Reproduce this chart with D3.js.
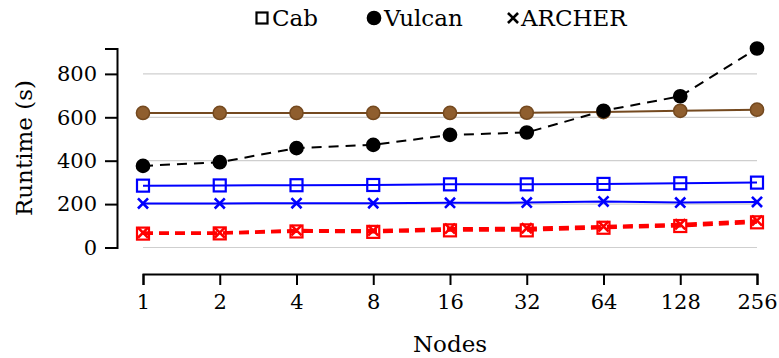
<!DOCTYPE html>
<html>
<head>
<meta charset="utf-8">
<script src="https://cdn.jsdelivr.net/npm/d3@7"></script>
<style>
  html, body { margin: 0; padding: 0; background: #fff; }
  svg { display: block; }
  text { font-family: "DejaVu Serif", "Liberation Serif", serif; fill: #000; }
</style>
</head>
<body>
<svg id="chart" width="779" height="358"></svg>
<script>
// Node counts on the x axis
const nodes = [1, 2, 4, 8, 16, 32, 64, 128, 256];
const yTicks = [0, 200, 400, 600, 800];

// Runtime (s) per configuration
const cabBlue      = [285, 286, 287, 288, 291, 291, 293, 296, 299];
const archerBlue   = [203, 203, 204, 204, 206, 207, 212, 207, 210];
const vulcanBlack  = [376, 393, 458, 473, 519, 530, 630, 697, 917];
const vulcanBrown  = [620, 620, 620, 620, 620, 621, 624, 630, 635];
const cabRed       = [64, 65, 74, 72, 79, 79, 91, 99, 116];
const archerRed    = [68, 68, 79, 78, 87, 89, 97, 107, 124];

const legendItems = [
  { label: "Cab", marker: "square" },
  { label: "Vulcan", marker: "circle" },
  { label: "ARCHER", marker: "cross" }
];

const series = [
  { values: vulcanBrown, color: "#8f5e2e", stroke: "#74491f", marker: "circle", dash: null, width: 2 },
  { values: vulcanBlack, color: "#000", stroke: "#000", marker: "circle", dash: "10,7", width: 2 },
  { values: cabBlue, color: "#0000ff", stroke: "#0000ff", marker: "square", dash: null, width: 2 },
  { values: archerBlue, color: "#0000ff", stroke: "#0000ff", marker: "cross", dash: null, width: 2 },
  { values: cabRed, color: "#ff0000", stroke: "#ff0000", marker: "square", dash: "10,6", width: 3 },
  { values: archerRed, color: "#ff0000", stroke: "#ff0000", marker: "cross", dash: "10,6", width: 3 }
];

const svg = d3.select("#chart");

const x = d3.scaleLog().base(2).domain([1, 256]).range([143, 757]);
const yMax = d3.max(vulcanBlack);
const y = d3.scaleLinear().domain([0, yMax]).range([247.5, 48.5]);

// Horizontal grid
svg.append("g")
  .selectAll("line")
  .data(yTicks)
  .join("line")
  .attr("x1", x(1)).attr("x2", x(256))
  .attr("y1", d => y(d)).attr("y2", d => y(d))
  .attr("stroke", "#cfcfcf")
  .attr("stroke-width", 1.2);

// Y axis
const yAxis = svg.append("g")
  .attr("transform", "translate(117,0)")
  .call(d3.axisLeft(y).tickValues(yTicks).tickSize(12).tickSizeOuter(12).tickPadding(8));
yAxis.selectAll("path, line").attr("stroke", "#000").attr("stroke-width", 2);
yAxis.selectAll("text").attr("font-size", 21).style("font-family", "DejaVu Serif");

// X axis
const xAxis = svg.append("g")
  .attr("transform", "translate(0,274)")
  .call(d3.axisBottom(x).tickValues(nodes).tickFormat(d3.format("d")).tickSize(11).tickSizeOuter(11).tickPadding(9));
xAxis.selectAll("path, line").attr("stroke", "#000").attr("stroke-width", 2);
xAxis.selectAll("text").attr("font-size", 21).style("font-family", "DejaVu Serif");

// Axis titles
svg.append("text")
  .attr("x", 450).attr("y", 352)
  .attr("text-anchor", "middle")
  .attr("font-size", 23)
  .text("Nodes");

svg.append("text")
  .attr("transform", "translate(32,148) rotate(-90)")
  .attr("text-anchor", "middle")
  .attr("font-size", 23)
  .text("Runtime (s)");

// Marker drawing
function drawMarker(g, type, fill, stroke, size) {
  if (type === "circle") {
    g.append("circle").attr("r", size * 0.55).attr("fill", fill).attr("stroke", stroke).attr("stroke-width", 1.5);
  } else if (type === "square") {
    const s = size;
    g.append("rect").attr("x", -s / 2).attr("y", -s / 2).attr("width", s).attr("height", s)
      .attr("fill", "none").attr("stroke", stroke).attr("stroke-width", 2.2);
  } else {
    const s = size * 0.42;
    g.append("path").attr("d", `M${-s},${-s}L${s},${s}M${-s},${s}L${s},${-s}`)
      .attr("stroke", stroke).attr("stroke-width", 2.6).attr("fill", "none");
  }
}

const line = d3.line().x((d, i) => x(nodes[i])).y(d => y(d));

series.forEach(s => {
  const g = svg.append("g");
  g.append("path")
    .datum(s.values)
    .attr("d", line)
    .attr("fill", "none")
    .attr("stroke", s.stroke)
    .attr("stroke-width", s.width)
    .attr("stroke-dasharray", s.dash);
  s.values.forEach((v, i) => {
    const m = g.append("g").attr("transform", `translate(${x(nodes[i])},${y(v)})`);
    drawMarker(m, s.marker, s.color, s.stroke, 12);
  });
});

// Legend
const legendX = [262, 374, 513];
legendItems.forEach((d, i) => {
  const g = svg.append("g").attr("transform", `translate(${legendX[i]},18)`);
  drawMarker(g, d.marker, "#000", "#000", d.marker === "square" ? 11 : 12);
  g.append("text")
    .attr("x", d.marker === "cross" ? 8 : 10)
    .attr("y", 8)
    .attr("font-size", 23)
    .text(d.label);
});
</script>
</body>
</html>
